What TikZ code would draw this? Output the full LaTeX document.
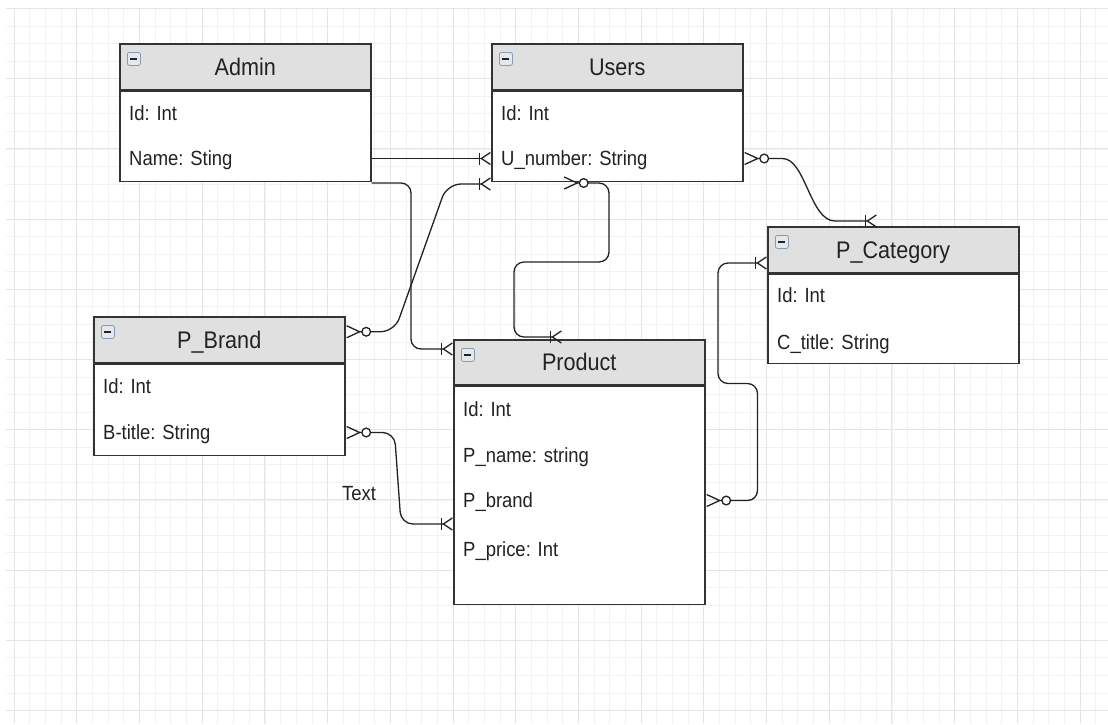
\documentclass[tikz,border=0pt]{standalone}
\usepackage{fontspec}
\setmainfont{Liberation Sans}[FakeStretch=0.9]
\usepackage{tikz}
\usetikzlibrary{positioning,arrows.meta,calc}
\definecolor{headgray}{HTML}{E0E0E0}
\definecolor{boxline}{HTML}{333333}
\definecolor{inkgray}{HTML}{222222}
\definecolor{iconline}{HTML}{8A9BB0}
\definecolor{iconfill}{HTML}{E4E9F0}
\tikzset{
	er diagram/.style={
		x=1pt,y=-1pt, % one unit is one pixel of the screen shot, y downwards
		font=\fontsize{20.5}{24}\selectfont,
		text=inkgray,
		minor grid/.style={draw=black!5,line width=0.6pt},
		major grid/.style={draw=black!10,line width=0.8pt},
		relation/.style={
			draw=inkgray,
			line width=1.3pt,
			rounded corners=10pt
		},
		to many/.style={
			-{Bar[width=12pt,sep=0pt]Straight Barb[reversed,length=9pt,width=12pt]}
		},
		zero many to many/.style={
			arrows={{Straight Barb[reversed,length=13pt,width=12pt,sep=0.5pt]Circle[length=10pt,width=10pt,fill=white]}-{Bar[width=12pt,sep=0pt]Straight Barb[reversed,length=9pt,width=12pt]}}
		}
	},
	entity head/.style={
		rectangle,
		draw=boxline,
		fill=headgray,
		line width=1.5pt,
		anchor=north west,
		minimum width=251pt,
		minimum height=46pt,
		inner sep=0pt,
		font=\fontsize{24}{28}\selectfont,
		text height=17.3pt,text depth=0pt % cap height, so the capitals sit in the middle
	},
	entity body/.style={
		rectangle,
		draw=boxline,
		fill=white,
		line width=1.5pt,
		minimum width=251pt,
		inner sep=0pt
	},
	attribute/.style={
		anchor=west,
		inner sep=0pt,
		text height=14.8pt,text depth=0pt % cap height again
	},
	collapse icon/.style={
		rectangle,
		anchor=north west,
		draw=iconline,
		fill=iconfill,
		line width=0.8pt,
		rounded corners=2pt,
		minimum size=13pt,
		inner sep=0pt,
		path picture={
			\draw[inkgray,line width=1.6pt]
				([xshift=3pt]path picture bounding box.west) -- ([xshift=-3pt]path picture bounding box.east);
		}
	}
}

\begin{document}
\begin{tikzpicture}[er diagram]
	% canvas with the editor grid
	\fill[white] (0,0) rectangle (1108,724);
	\useasboundingbox (0,0) rectangle (1108,724);
	\foreach \i in {0,...,69} \draw[minor grid] ({14+\i*15.675},8) -- ({14+\i*15.675},724);
	\foreach \j in {0,...,40} \draw[minor grid] (6,{8.4+\j*17.55}) -- (1108,{8.4+\j*17.55});
	\foreach \i in {0,...,17} \draw[major grid] ({14+\i*62.7},8) -- ({14+\i*62.7},724);
	\foreach \j in {0,...,10} \draw[major grid] (6,{8.4+\j*70.2}) -- (1108,{8.4+\j*70.2});

	% Admin
	\node[entity head] (admin) at (119,43) {Admin};
	\node[entity body,minimum height=90pt,below=0pt of admin] (admin body) {};
	\node[collapse icon] (admin icon) at ([shift={(8pt,-9pt)}]admin.north west) {};
	\node[attribute] (admin id) at ([shift={(10pt,-23pt)}]admin.south west) {Id: Int};
	\node[attribute] (admin name) at ([shift={(10pt,-68pt)}]admin.south west) {Name: Sting};

	% Users
	\node[entity head] (users) at (491,43) {Users};
	\node[entity body,minimum height=90pt,below=0pt of users] (users body) {};
	\node[collapse icon] (users icon) at ([shift={(8pt,-9pt)}]users.north west) {};
	\node[attribute] (users id) at ([shift={(10pt,-23pt)}]users.south west) {Id: Int};
	\node[attribute] (users unum) at ([shift={(10pt,-68pt)}]users.south west) {U\_number: String};

	% P_Category
	\node[entity head] (pcategory) at (767,226) {P\_Category};
	\node[entity body,minimum height=89pt,below=0pt of pcategory] (pcategory body) {};
	\node[collapse icon] (pcategory icon) at ([shift={(8pt,-9pt)}]pcategory.north west) {};
	\node[attribute] (pcategory id) at ([shift={(10pt,-22pt)}]pcategory.south west) {Id: Int};
	\node[attribute] (pcategory ctitle) at ([shift={(10pt,-69pt)}]pcategory.south west) {C\_title: String};

	% P_Brand
	\node[entity head] (pbrand) at (93,316) {P\_Brand};
	\node[entity body,minimum height=91pt,below=0pt of pbrand] (pbrand body) {};
	\node[collapse icon] (pbrand icon) at ([shift={(8pt,-9pt)}]pbrand.north west) {};
	\node[attribute] (pbrand id) at ([shift={(10pt,-23pt)}]pbrand.south west) {Id: Int};
	\node[attribute] (pbrand btitle) at ([shift={(10pt,-69pt)}]pbrand.south west) {B-title: String};

	% Product
	\node[entity head,minimum height=45pt] (product) at (453,339) {Product};
	\node[entity body,minimum height=218pt,below=0pt of product] (product body) {};
	\node[collapse icon] (product icon) at ([shift={(8pt,-9pt)}]product.north west) {};
	\node[attribute] (product id) at ([shift={(10pt,-24pt)}]product.south west) {Id: Int};
	\node[attribute] (product name) at ([shift={(10pt,-70pt)}]product.south west) {P\_name: string};
	\node[attribute] (product brand) at ([shift={(10pt,-115pt)}]product.south west) {P\_brand};
	\node[attribute] (product price) at ([shift={(10pt,-164pt)}]product.south west) {P\_price: Int};

	\node[attribute] (brand note) at (342,493) {Text};

	% relations
	\draw[relation,to many] (admin name -| admin body.east) -- (admin name -| users body.west);
	\draw[relation,to many] ([yshift=-1pt]admin body.south east)
		-| ([shift={(-42pt,-10pt)}]product.north west) -- ([yshift=-10pt]product.north west);
	\draw[relation,zero many to many,rounded corners=14pt] ([yshift=8pt]pbrand.east) -- ++(49,0)
		-- ([shift={(-44pt,-2pt)}]users body.south west) -- ([yshift=-2pt]users body.south west);
	\draw[relation,zero many to many] ([shift={(72pt,-1pt)}]users body.south west) -- ++(46,0) -- ++(0,79)
		-| ([shift={(61pt,2pt)}]product.north west) -- ([shift={(109pt,2pt)}]product.north west);
	\draw[relation,zero many to many] (users unum -| users body.east) -- ++(29,0)
		.. controls +(33,0) and +(-35,0) .. ([shift={(78pt,5pt)}]pcategory.north west)
		-- ([shift={(110pt,5pt)}]pcategory.north west);
	\draw[relation,zero many to many] (product brand -| product body.east) -- ++(52,0) -- ++(0,-117)
		-| ([shift={(-49pt,-37pt)}]pcategory.north west) -- ([yshift=-37pt]pcategory.north west);
	\draw[relation,zero many to many,rounded corners=12pt] (pbrand btitle -| pbrand body.east) -- ++(49,0)
		-- ([shift={(-52pt,-185pt)}]product.north west) -- ([yshift=-185pt]product.north west);
\end{tikzpicture}
\end{document}
